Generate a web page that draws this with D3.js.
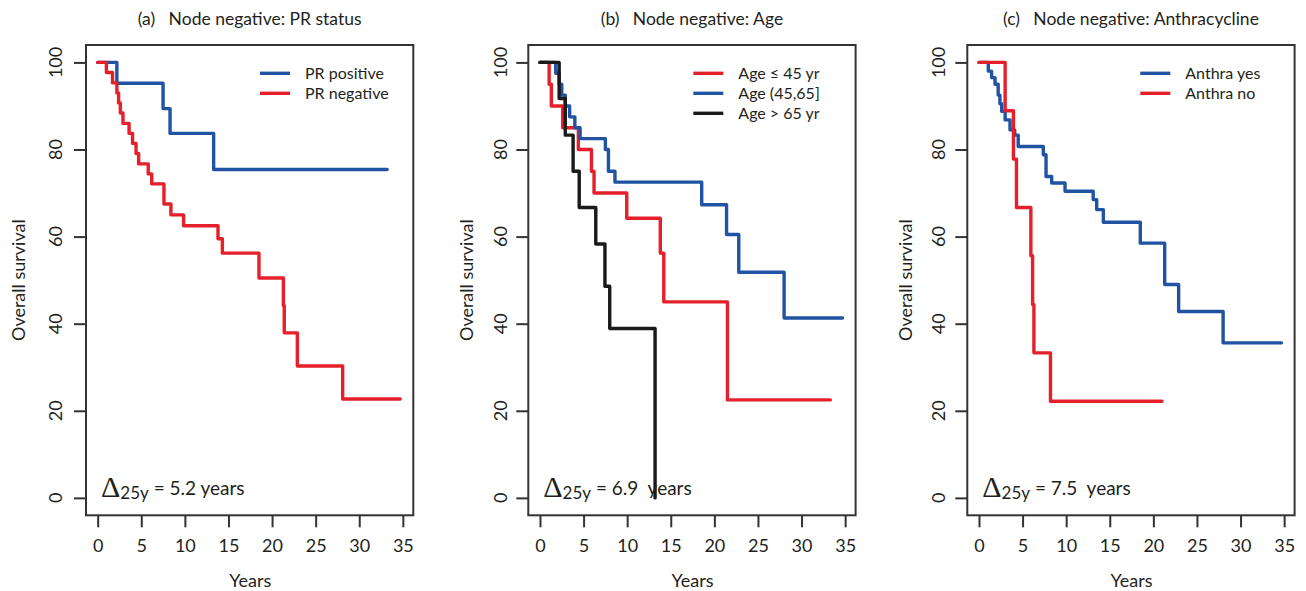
<!DOCTYPE html>
<html><head><meta charset="utf-8">
<script src="https://cdn.jsdelivr.net/npm/d3@7"></script>
<style>
body{margin:0;background:#fff;}
text{font-family:Lato,"Open Sans",sans-serif;fill:#231f20;}
</style></head>
<body><svg id="chart" width="1306" height="591"></svg>
<script>
// ---------- data ----------
const xTicks = [0,5,10,15,20,25,30,35];
const yTicks = [0,20,40,60,80,100];
const panelTitles = ["(a)\u00a0\u00a0\u00a0Node negative: PR status","(b)\u00a0\u00a0\u00a0Node negative: Age","(c)\u00a0\u00a0\u00a0Node negative: Anthracycline"];
const deltaValues = ["5.2","6.9","7.5"];
const deltaGaps = [" ","\u00a0 ","\u00a0 "];

// Panel (a)
const prPosTimes = [0,2.2,7.5,8.3,13.3];
const prPosSurv  = [100,95.2,89.4,83.7,75.4];
const prPosEnd = 33.2;
const prNegTimes = [0,1.0,1.7,2.2,2.4,2.6,2.9,3.6,4.0,4.4,4.7,5.8,6.2,7.6,8.4,9.85,13.8,14.3,18.5,21.3,21.4,22.9,28.1];
const prNegSurv  = [100,97.7,95.3,93.0,90.7,88.4,86.0,83.7,81.4,79.1,76.7,74.4,72.1,67.5,65.0,62.5,59.5,56.2,50.5,44.2,37.9,30.3,22.7];
const prNegEnd = 34.7;

// Panel (b)
const ageLowTimes = [0,1.05,1.3,2.6,4.4,5.9,6.2,9.95,13.8,14.2,21.5];
const ageLowSurv  = [100,95,90,85,80,75,70,64.2,56.2,45,22.5];
const ageLowEnd = 33.3;
const ageMidTimes = [0,1.8,2.2,2.5,2.9,3.4,4.0,4.6,7.5,7.85,8.6,18.55,21.4,22.8,28.0];
const ageMidSurv  = [100,97.5,95,92.5,90,87.5,85,82.5,80,75,72.5,67.3,60.5,51.8,41.3];
const ageMidEnd = 34.7;
const ageHighTimes = [0,2.2,2.9,3.8,4.5,6.4,7.45,8.0,13.2];
const ageHighSurv  = [100,91.7,83.3,75.0,66.7,58.3,48.6,38.9,0];
const ageHighEnd = 13.2;

// Panel (c)
const anthraYesTimes = [0,1.07,1.45,1.84,2.2,2.4,2.6,3.0,3.56,4.1,4.5,7.38,7.69,8.34,9.87,13.1,13.5,14.26,18.5,21.3,22.9,28.0];
const anthraYesSurv  = [100,98.0,96.5,95.0,92.5,90.5,88.8,86.8,84.5,83.3,80.7,78.8,73.8,72.3,70.4,68.5,66.2,63.3,58.5,49.0,42.8,35.6];
const anthraYesEnd = 34.7;
const anthraNoTimes = [0,3.0,3.95,4.3,5.95,6.15,6.3,8.2];
const anthraNoSurv  = [100,88.9,77.8,66.7,55.6,44.4,33.3,22.2];
const anthraNoEnd = 21.0;

const RED="#e5202a", BLUE="#2153a3", BLACK="#1a1a1a";

const panels = [
  {left:86, legendX:174, ytitleOff:61, ylabOff:24, series:[
    {name:"PR positive", t:prPosTimes, s:prPosSurv, end:prPosEnd, color:BLUE},
    {name:"PR negative", t:prNegTimes, s:prNegSurv, end:prNegEnd, color:RED}]},
  {left:528.3, legendX:165, ytitleOff:55, ylabOff:21, series:[
    {name:"Age \u2264 45 yr", t:ageLowTimes, s:ageLowSurv, end:ageLowEnd, color:RED},
    {name:"Age (45,65]", t:ageMidTimes, s:ageMidSurv, end:ageMidEnd, color:BLUE},
    {name:"Age > 65 yr", t:ageHighTimes, s:ageHighSurv, end:ageHighEnd, color:BLACK}]},
  {left:967.3, legendX:173, ytitleOff:55, ylabOff:22, series:[
    {name:"Anthra yes", t:anthraYesTimes, s:anthraYesSurv, end:anthraYesEnd, color:BLUE},
    {name:"Anthra no", t:anthraNoTimes, s:anthraNoSurv, end:anthraNoEnd, color:RED}]}
];

const svg = d3.select("#chart");
const plotTop = 45, plotBottom = 515.3, boxW = 327.3;
const y = d3.scaleLinear().domain([-4,104]).range([plotBottom, plotTop]);

panels.forEach((p,i)=>{
  const x = d3.scaleLinear().domain([-1.34,36.2]).range([p.left, p.left+boxW]);
  const g = svg.append("g");
  // title
  g.append("text").attr("x", p.left+boxW/2).attr("y", 25).attr("text-anchor","middle")
    .style("font-size","17.5px").text(panelTitles[i]);
  // curves
  p.series.forEach(se=>{
    const pts = se.t.map((t,k)=>[t, se.s[k]]);
    pts.push([se.end, se.s[se.s.length-1]]);
    const line = d3.line().x(d=>x(d[0])).y(d=>y(d[1])).curve(d3.curveStepAfter);
    g.append("path").attr("d", line(pts)).attr("fill","none").attr("stroke",se.color)
      .attr("stroke-width",3.4).attr("stroke-linejoin","round").attr("stroke-linecap","round");
  });
  // box
  g.append("rect").attr("x",p.left).attr("y",plotTop).attr("width",boxW).attr("height",plotBottom-plotTop)
    .attr("fill","none").attr("stroke","#333").attr("stroke-width",2);
  // x axis
  const xa = g.append("g").attr("transform",`translate(0,${plotBottom})`)
    .call(d3.axisBottom(x).tickValues(xTicks).tickSize(12).tickSizeOuter(0).tickPadding(12));
  xa.select(".domain").remove();
  xa.selectAll("line").attr("stroke","#333").attr("stroke-width",2);
  xa.selectAll("text").style("font-size","18px").attr("fill","#231f20").style("font-family","Lato,'Open Sans',sans-serif");
  // y axis
  const ya = g.append("g").attr("transform",`translate(${p.left},0)`)
    .call(d3.axisLeft(y).tickValues(yTicks).tickSize(12).tickSizeOuter(0).tickFormat(d3.format("d")));
  ya.select(".domain").remove();
  ya.selectAll("line").attr("stroke","#333").attr("stroke-width",2);
  ya.selectAll("text").remove();
  yTicks.forEach(v=>{
    g.append("text").attr("transform",`translate(${p.left-p.ylabOff},${y(v)}) rotate(-90)`)
      .attr("text-anchor","middle").style("font-size","18px").text(v);
  });
  // axis titles
  g.append("text").attr("x", x(17.5)).attr("y", 587).attr("text-anchor","middle")
    .style("font-size","18px").text("Years");
  g.append("text").attr("transform",`translate(${p.left-p.ytitleOff},${(plotTop+plotBottom)/2}) rotate(-90)`)
    .attr("text-anchor","middle").style("font-size","18px").text("Overall survival");
  // legend
  p.series.forEach((se,k)=>{
    const ly = 73.3 + k*20;
    g.append("line").attr("x1",p.left+p.legendX).attr("x2",p.left+p.legendX+30)
      .attr("y1",ly).attr("y2",ly).attr("stroke",se.color).attr("stroke-width",3.4);
    g.append("text").attr("x",p.left+p.legendX+45).attr("y",ly+5.5).style("font-size","16px").text(se.name);
  });
  // delta annotation
  const dt = g.append("text").attr("x", p.left+15).attr("y", 496.5);
  dt.append("tspan").style("font-family","'Liberation Serif',serif").style("font-size","30px").text("\u0394");
  dt.append("tspan").attr("dy",2).style("font-size","17px").text("25y");
  dt.append("tspan").attr("dy",-4).style("font-size","19px").text(" = " + deltaValues[i] + deltaGaps[i] + "years");
});
</script></body></html>
